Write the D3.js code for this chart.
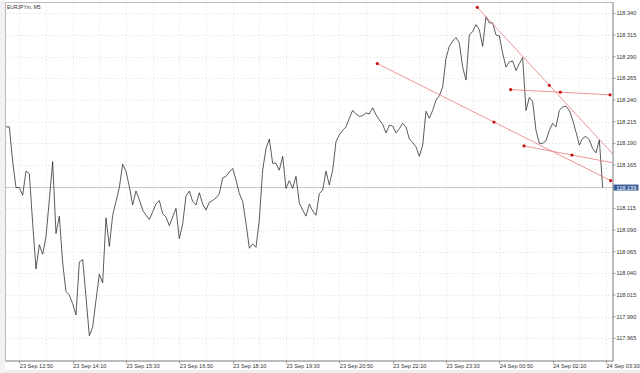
<!DOCTYPE html>
<html>
<head>
<meta charset="utf-8">
<script src="https://cdn.jsdelivr.net/npm/d3@7"></script>
<style>
  body { margin: 0; background: #ffffff; }
  text { font-family: "Liberation Sans", Arial, sans-serif; }
</style>
</head>
<body>
<div id="chart"></div>
<script>
// EURJPYm M5 closes, one per bar starting 23 Sep 12:30
var startBar = "23 Sep 12:30";
var closes = [
  118.209, 118.209, 118.169, 118.139, 118.139, 118.130, 118.158, 118.155, 118.098, 118.045,
  118.073, 118.062, 118.082, 118.125, 118.169, 118.086, 118.106, 118.052, 118.019, 118.015,
  118.005, 117.992, 118.053, 118.056, 118.013, 117.968, 117.978, 118.009, 118.039, 118.029,
  118.104, 118.071, 118.107, 118.123, 118.139, 118.166, 118.158, 118.140, 118.119, 118.135,
  118.125, 118.113, 118.107, 118.102, 118.111, 118.120, 118.124, 118.109, 118.105, 118.095,
  118.105, 118.115, 118.080, 118.097, 118.129, 118.135, 118.123, 118.119, 118.133, 118.120,
  118.113, 118.122, 118.124, 118.127, 118.132, 118.150, 118.152, 118.157, 118.161, 118.148,
  118.132, 118.123, 118.098, 118.069, 118.074, 118.070, 118.102, 118.159, 118.184, 118.195,
  118.167, 118.167, 118.159, 118.175, 118.138, 118.147, 118.138, 118.152, 118.121, 118.113,
  118.106, 118.120, 118.112, 118.107, 118.132, 118.136, 118.158, 118.142, 118.159, 118.192,
  118.200, 118.205, 118.209, 118.219, 118.228, 118.224, 118.221, 118.222, 118.225, 118.224,
  118.231, 118.223, 118.217, 118.212, 118.202, 118.211, 118.210, 118.202, 118.207, 118.213,
  118.209, 118.195, 118.191, 118.186, 118.175, 118.188, 118.227, 118.219, 118.228, 118.240,
  118.245, 118.255, 118.288, 118.302, 118.308, 118.312, 118.306, 118.278, 118.263, 118.315,
  118.319, 118.327, 118.321, 118.302, 118.336, 118.329, 118.329, 118.315, 118.314, 118.294,
  118.278, 118.284, 118.285, 118.274, 118.282, 118.289, 118.228, 118.243, 118.238, 118.205,
  118.190, 118.190, 118.193, 118.205, 118.213, 118.209, 118.228, 118.232, 118.233, 118.228,
  118.217, 118.203, 118.188, 118.196, 118.198, 118.194, 118.184, 118.179, 118.194, 118.139
];
var lastPrice = 118.139;

var priceTicks = [118.340, 118.315, 118.290, 118.265, 118.240, 118.215, 118.190, 118.165,
  118.115, 118.090, 118.065, 118.040, 118.015, 117.990, 117.965];
var gridPrices = [118.340, 118.315, 118.290, 118.265, 118.240, 118.215, 118.190, 118.165,
  118.140, 118.115, 118.090, 118.065, 118.040, 118.015, 117.990, 117.965];

var timeLabels = ["23 Sep 12:50", "23 Sep 14:10", "23 Sep 15:30", "23 Sep 16:50", "23 Sep 18:10",
  "23 Sep 19:30", "23 Sep 20:50", "23 Sep 22:10", "23 Sep 23:30", "24 Sep 00:50",
  "24 Sep 02:10", "24 Sep 03:30"];

// trend lines: start and end anchors, the middle handle sits half way
var trendStart = [["23 Sep 21:47", 118.282], ["24 Sep 00:17", 118.347], ["24 Sep 01:07", 118.252], ["24 Sep 01:27", 118.187]];
var trendEnd   = [["24 Sep 03:37", 118.147], ["24 Sep 03:53", 118.167], ["24 Sep 03:36", 118.246], ["24 Sep 03:51", 118.166]];

var width = 640, height = 373;
var plot = { left: 6, right: 613, top: 3, bottom: 361 };

var parseTime = d3.utcParse("%d %b %H:%M");
var t0 = parseTime(startBar);
var bars = closes.map(function(c, i) {
  return { time: d3.utcMinute.offset(t0, i * 5), close: c };
});

var xScale = d3.scaleUtc()
  .domain([parseTime("23 Sep 12:50"), d3.utcMinute.offset(parseTime("23 Sep 12:50"), 880)])
  .range([19.33, 606]);

var yScale = d3.scaleLinear()
  .domain([117.965, 118.340])
  .range([338.35, 13.35]);

var svg = d3.select("#chart").append("svg")
  .attr("width", width)
  .attr("height", height);

svg.append("rect").attr("width", width).attr("height", height).attr("fill", "#ffffff");
svg.append("rect").attr("x", 0).attr("y", 370).attr("width", width).attr("height", 3).attr("fill", "#eeeeee");
svg.append("rect").attr("x", 0).attr("y", 0).attr("width", 5).attr("height", height).attr("fill", "#f2f2f2");

svg.append("clipPath").attr("id", "plotclip")
  .append("rect")
  .attr("x", plot.left).attr("y", plot.top)
  .attr("width", plot.right - plot.left).attr("height", plot.bottom - plot.top);

// grid, dotted every 40 minutes and every 0.025
var gridTimes = d3.range(0, 23).map(function(k) {
  return d3.utcMinute.offset(parseTime("23 Sep 12:50"), k * 40);
});
svg.append("g").selectAll("line")
  .data(gridTimes)
  .enter().append("line")
  .attr("x1", d => Math.round(xScale(d)) + 0.5)
  .attr("x2", d => Math.round(xScale(d)) + 0.5)
  .attr("y1", plot.top)
  .attr("y2", plot.bottom)
  .attr("stroke", "#e2e2e2")
  .attr("stroke-width", 0.8)
  .attr("stroke-dasharray", "1.5,2");

svg.append("g").selectAll("line")
  .data(gridPrices)
  .enter().append("line")
  .attr("x1", plot.left)
  .attr("x2", plot.right)
  .attr("y1", d => Math.round(yScale(d)) + 0.5)
  .attr("y2", d => Math.round(yScale(d)) + 0.5)
  .attr("stroke", "#e2e2e2")
  .attr("stroke-width", 0.8)
  .attr("stroke-dasharray", "1.5,2");

// current price line
svg.append("line")
  .attr("x1", plot.left).attr("x2", plot.right)
  .attr("y1", yScale(lastPrice)).attr("y2", yScale(lastPrice))
  .attr("stroke", "#c8c8c8")
  .attr("stroke-width", 1);

// price line
var line = d3.line()
  .x(d => xScale(d.time))
  .y(d => yScale(d.close));

svg.append("path")
  .datum(bars)
  .attr("clip-path", "url(#plotclip)")
  .attr("d", line)
  .attr("fill", "none")
  .attr("stroke", "#262626")
  .attr("stroke-width", 0.75)
  .attr("stroke-linejoin", "round");

// trend lines with their three handles
var trends = trendStart.map(function(s, i) {
  var a = { time: parseTime(s[0]), price: s[1] };
  var b = { time: parseTime(trendEnd[i][0]), price: trendEnd[i][1] };
  var m = { time: new Date((+a.time + +b.time) / 2), price: (a.price + b.price) / 2 };
  return [a, m, b];
});

var trendGroup = svg.append("g").attr("clip-path", "url(#plotclip)");
trendGroup.selectAll("line")
  .data(trends)
  .enter().append("line")
  .attr("x1", d => xScale(d[0].time))
  .attr("y1", d => yScale(d[0].price))
  .attr("x2", d => xScale(d[2].time))
  .attr("y2", d => yScale(d[2].price))
  .attr("stroke", "#e87a7a")
  .attr("stroke-width", 0.8);

trendGroup.selectAll("circle")
  .data(trends.flat())
  .enter().append("circle")
  .attr("cx", d => xScale(d.time))
  .attr("cy", d => yScale(d.price))
  .attr("r", 1.6)
  .attr("fill", "#c81414");

// frame
svg.append("rect")
  .attr("x", plot.left - 0.5).attr("y", plot.top - 0.5)
  .attr("width", plot.right - plot.left + 0.5).attr("height", plot.bottom - plot.top + 0.5)
  .attr("fill", "none")
  .attr("stroke", "#bdbdbd")
  .attr("stroke-width", 1);
svg.append("line")
  .attr("x1", plot.right).attr("x2", plot.right)
  .attr("y1", plot.top - 0.5).attr("y2", plot.bottom)
  .attr("stroke", "#8c8c8c").attr("stroke-width", 0.8);
svg.append("line")
  .attr("x1", plot.left).attr("x2", plot.right)
  .attr("y1", plot.bottom).attr("y2", plot.bottom)
  .attr("stroke", "#8c8c8c").attr("stroke-width", 0.8);

// right price axis
var yAxis = svg.append("g");
yAxis.selectAll("line")
  .data(priceTicks)
  .enter().append("line")
  .attr("x1", plot.right).attr("x2", plot.right + 2.5)
  .attr("y1", d => yScale(d)).attr("y2", d => yScale(d))
  .attr("stroke", "#666").attr("stroke-width", 0.6);
yAxis.selectAll("text")
  .data(priceTicks)
  .enter().append("text")
  .attr("x", plot.right + 3.5)
  .attr("y", d => yScale(d) + 2)
  .attr("font-size", "5.6px")
  .attr("fill", "#333")
  .text(d => d3.format(".3f")(d));

var py = yScale(lastPrice);
svg.append("rect")
  .attr("x", plot.right + 0.5).attr("y", py - 3)
  .attr("width", 25).attr("height", 6)
  .attr("fill", "#3a5e98");
svg.append("text")
  .attr("x", plot.right + 3.5).attr("y", py + 2)
  .attr("font-size", "5.6px")
  .attr("fill", "#ffffff")
  .text(d3.format(".3f")(lastPrice));

// time axis
var xAxis = svg.append("g");
xAxis.selectAll("line")
  .data(timeLabels)
  .enter().append("line")
  .attr("x1", d => Math.round(xScale(parseTime(d))) + 0.5)
  .attr("x2", d => Math.round(xScale(parseTime(d))) + 0.5)
  .attr("y1", plot.bottom).attr("y2", plot.bottom + 2.5)
  .attr("stroke", "#666").attr("stroke-width", 0.6);
xAxis.selectAll("text")
  .data(timeLabels)
  .enter().append("text")
  .attr("x", d => xScale(parseTime(d)) + 0.5)
  .attr("y", plot.bottom + 6.5)
  .attr("font-size", "5.6px")
  .attr("fill", "#333")
  .text(d => d);

// symbol caption
svg.append("text")
  .attr("x", 7).attr("y", 8.5)
  .attr("font-size", "5px")
  .attr("fill", "#333333")
  .text("EURJPYm, M5");
</script>
</body>
</html>
